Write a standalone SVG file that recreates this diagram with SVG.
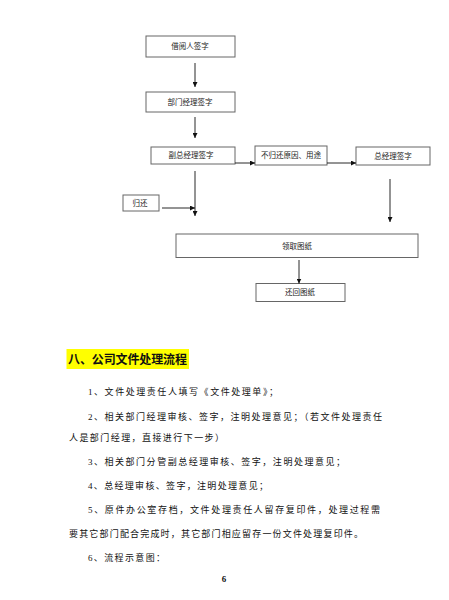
<svg xmlns="http://www.w3.org/2000/svg" width="449" height="600" viewBox="0 0 449 600">
<style>
.box{fill:#fff;stroke:#666;stroke-width:1}
.bt{font-family:"Liberation Serif","Noto Sans CJK SC",serif;font-size:7.5px;fill:#222;text-anchor:middle;dominant-baseline:central}
.ln{stroke:#111;stroke-width:0.9;fill:none;marker-end:url(#ah)}
.body{font-family:"Liberation Serif","Noto Sans CJK SC",serif;font-size:9px;fill:#111}
</style>
<defs>
<marker id="ah" viewBox="0 0 6 6" refX="6" refY="3" markerWidth="5" markerHeight="5" markerUnits="userSpaceOnUse" orient="auto">
<path d="M0,0 L6,3 L0,6 z" fill="#111"/>
</marker>
</defs>
<rect width="449" height="600" fill="#fff"/>
<g id="n1"><rect class="box" x="146" y="36" width="89" height="21"/><text class="bt" x="190" y="46.5">借阅人签字</text></g>
<g id="n2"><rect class="box" x="146" y="92" width="89" height="20"/><text class="bt" x="190" y="102">部门经理签字</text></g>
<g id="n3"><rect class="box" x="151" y="147" width="84" height="17"/><text class="bt" x="191" y="155.5">副总经理签字</text></g>
<g id="n4"><rect class="box" x="255" y="146" width="72" height="19"/><text class="bt" x="291" y="155.5">不归还原因、用途</text></g>
<g id="n5"><rect class="box" x="356" y="147" width="74" height="18"/><text class="bt" x="393" y="156">总经理签字</text></g>
<g id="n6"><rect class="box" x="123" y="195" width="36" height="16"/><text class="bt" x="140" y="203">归还</text></g>
<g id="n7"><rect class="box" x="176" y="234" width="242" height="23.5"/><text class="bt" x="297" y="246">领取图纸</text></g>
<g id="n8"><rect class="box" x="256" y="283.5" width="89" height="18"/><text class="bt" x="300" y="292.5">还回图纸</text></g>
<g id="connectors">
<line class="ln" x1="195" y1="63" x2="195" y2="87"/>
<line class="ln" x1="195" y1="117" x2="195" y2="138"/>
<line class="ln" x1="235" y1="163" x2="255" y2="163"/>
<line class="ln" x1="327" y1="163" x2="356" y2="163"/>
<line class="ln" x1="195" y1="171" x2="195" y2="216"/>
<line class="ln" x1="162" y1="208" x2="195" y2="208"/>
<line class="ln" x1="390" y1="179" x2="390" y2="222"/>
<line class="ln" x1="299" y1="260" x2="299" y2="283.5"/>
</g>
<g id="text">
<rect x="66.5" y="349" width="122.5" height="20" fill="#ffff00"/>
<text x="68" y="364" font-family="'Noto Sans CJK SC',sans-serif" font-size="12" font-weight="bold" fill="#111" textLength="119" lengthAdjust="spacing">八、公司文件处理流程</text>
<text class="body" x="88" y="395" textLength="190" lengthAdjust="spacing">1、文件处理责任人填写《文件处理单》；</text>
<text class="body" x="88" y="420" textLength="294" lengthAdjust="spacing">2、相关部门经理审核、签字，注明处理意见；（若文件处理责任</text>
<text class="body" x="69" y="440.5" textLength="155" lengthAdjust="spacing">人是部门经理，直接进行下一步）</text>
<text class="body" x="88" y="465" textLength="257" lengthAdjust="spacing">3、相关部门分管副总经理审核、签字，注明处理意见；</text>
<text class="body" x="88" y="488.5" textLength="180" lengthAdjust="spacing">4、总经理审核、签字，注明处理意见；</text>
<text class="body" x="88" y="512.5" textLength="292" lengthAdjust="spacing">5、原件办公室存档，文件处理责任人留存复印件，处理过程需</text>
<text class="body" x="69" y="536.5" textLength="294" lengthAdjust="spacing">要其它部门配合完成时，其它部门相应留存一份文件处理复印件。</text>
<text class="body" x="88" y="560.5" textLength="77" lengthAdjust="spacing">6、流程示意图：</text>
<text x="224" y="582" font-family="'Liberation Serif',serif" font-size="9" font-weight="bold" fill="#111" text-anchor="middle">6</text>
</g>
</svg>
